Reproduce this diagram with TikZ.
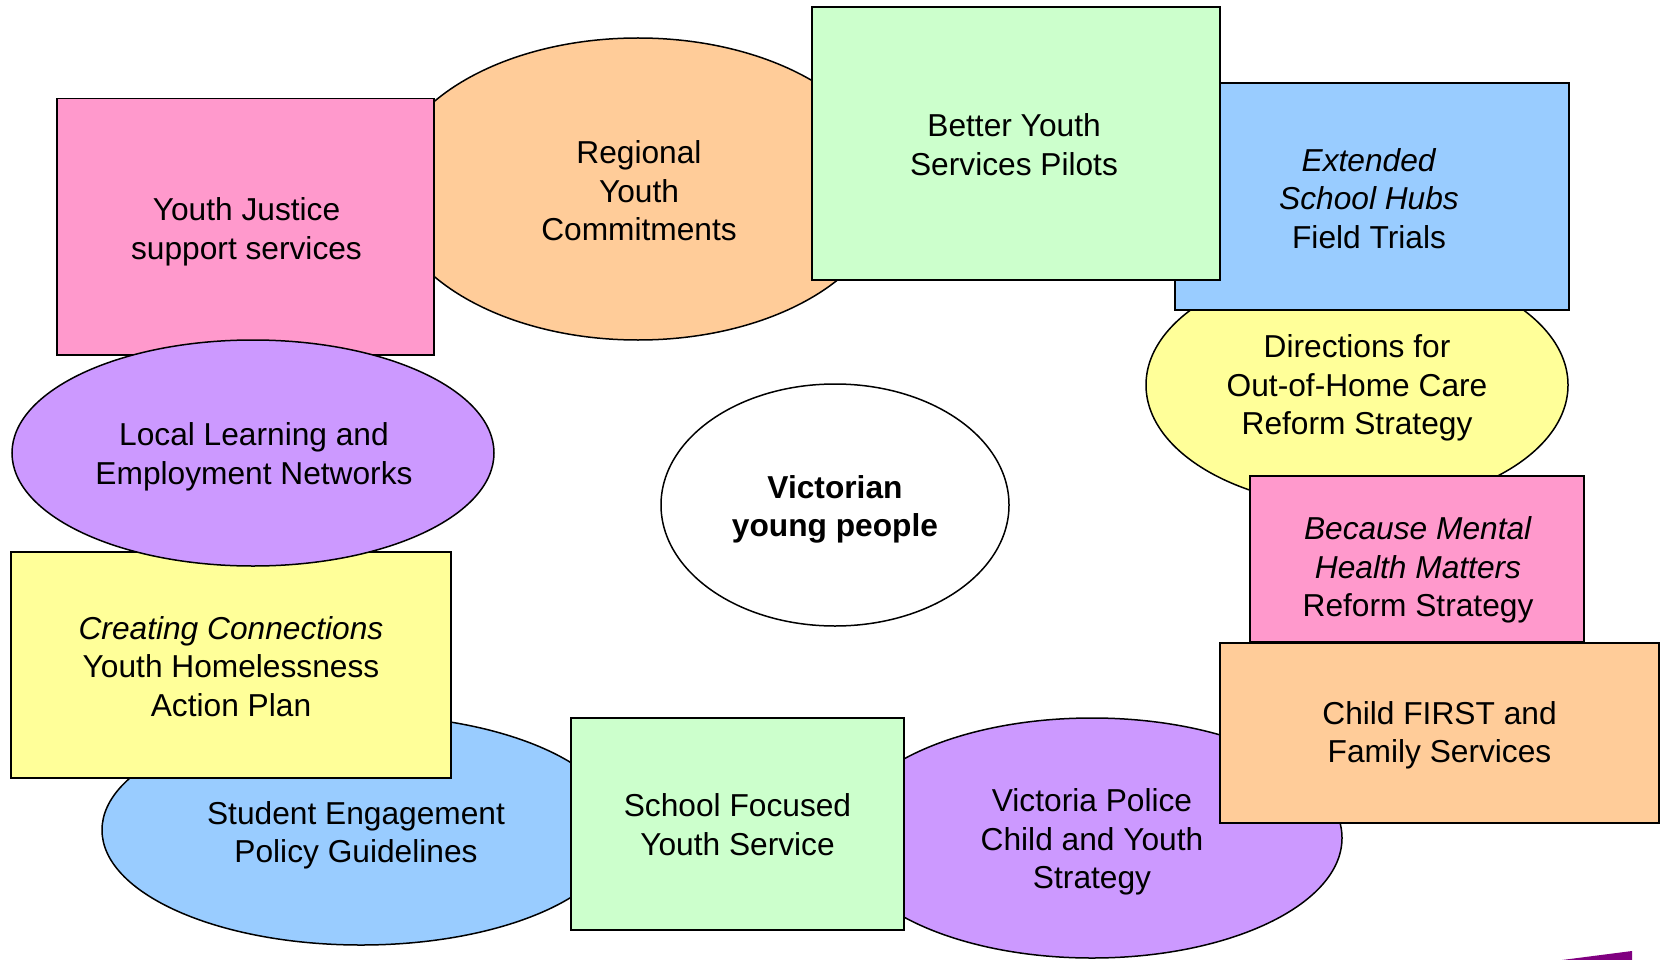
\documentclass[tikz,border=0pt]{standalone}
\usepackage{fontspec}
\setmainfont{Liberation Sans}
\usetikzlibrary{shapes.geometric}
\definecolor{cpink}{HTML}{FF99CC}
\definecolor{corange}{HTML}{FFCC99}
\definecolor{cgreen}{HTML}{CCFFCC}
\definecolor{cblue}{HTML}{99CCFF}
\definecolor{cyellow}{HTML}{FFFF99}
\definecolor{cpurple}{HTML}{CC99FF}
\definecolor{csliver}{HTML}{800080}
\begin{document}
\begin{tikzpicture}[x=1pt,y=-1pt,
  every node/.style={font=\fontsize{31.7}{38.4}\selectfont, align=center, inner sep=0pt, outer sep=0pt},
  box/.style={draw=black, line width=1.5pt, rectangle},
  oval/.style={draw=black, line width=1.5pt, ellipse},
]
\useasboundingbox (0,0) rectangle (1661,960);

\node[oval, fill=corange, minimum width=500pt, minimum height=302pt] (regional) at (638,189) {};
\node (regionaltext) at ([shift={(1,2)}]regional.center) {Regional\\Youth\\Commitments};
\node[box, fill=cpink, minimum width=377pt, minimum height=256.5pt] (yj) at (245.5,226.75) {};
\node (yjtext) at ([shift={(1,5)}]yj.center) {Youth Justice\\support services};
\node[oval, fill=cblue, minimum width=518pt, minimum height=230pt] (student) at (361,830) {};
\node (studenttext) at ([shift={(-5,5)}]student.center) {Student Engagement\\Policy Guidelines};
\node[box, fill=cyellow, minimum width=440pt, minimum height=226pt] (cc) at (231,665) {};
\node (cctext) at ([shift={(0,1.5)}]cc.center) {\textit{Creating Connections}\\Youth Homelessness\\Action Plan};
\node[oval, fill=cpurple, minimum width=482pt, minimum height=226pt] (llen) at (253,453) {};
\node (llentext) at ([shift={(1,4)}]llen.center) {Local Learning and\\Employment Networks};
\node[oval, fill=cyellow, minimum width=422pt, minimum height=244pt] (directions) at (1357,385) {};
\node (directionstext) at ([shift={(0,3)}]directions.center) {Directions for\\Out-of-Home Care\\Reform Strategy};
\node[box, fill=cblue, minimum width=394pt, minimum height=227pt] (extended) at (1372,196.5) {};
\node (extendedtext) at ([shift={(-3,2)}]extended.center) {\textit{Extended}\\\textit{School Hubs}\\Field Trials};
\node[box, fill=cgreen, minimum width=408pt, minimum height=273pt] (better) at (1016,143.5) {};
\node (bettertext) at ([shift={(-2,1)}]better.center) {Better Youth\\Services Pilots};
\node[box, fill=cpink, minimum width=334pt, minimum height=166pt] (mental) at (1417,559) {};
\node (mentaltext) at ([shift={(1,11)}]mental.center) {\textit{Because Mental}\\\textit{Health Matters}\\Reform Strategy};
\node[oval, fill=cpurple, minimum width=500pt, minimum height=240pt] (police) at (1092,838) {};
\node (policetext) at ([shift={(0,4)}]police.center) {Victoria Police\\Child and Youth\\Strategy};
\node[box, fill=corange, minimum width=439pt, minimum height=180pt] (childfirst) at (1439.5,733) {};
\node (childfirsttext) at ([shift={(0,2.5)}]childfirst.center) {Child FIRST and\\Family Services};
\node[box, fill=cgreen, minimum width=333pt, minimum height=212pt] (school) at (737.5,824) {};
\node (schooltext) at ([shift={(0,0.5)}]school.center) {School Focused\\Youth Service};
\node[oval, fill=white, minimum width=348pt, minimum height=242pt] (young) at (835,505) {};
\node (youngtext) at ([shift={(0,4.5)}]young.center) {\textbf{Victorian}\\\textbf{young people}};
\fill[csliver] (1562,960) -- (1632,951) -- (1632,960) -- cycle;
\end{tikzpicture}
\end{document}
